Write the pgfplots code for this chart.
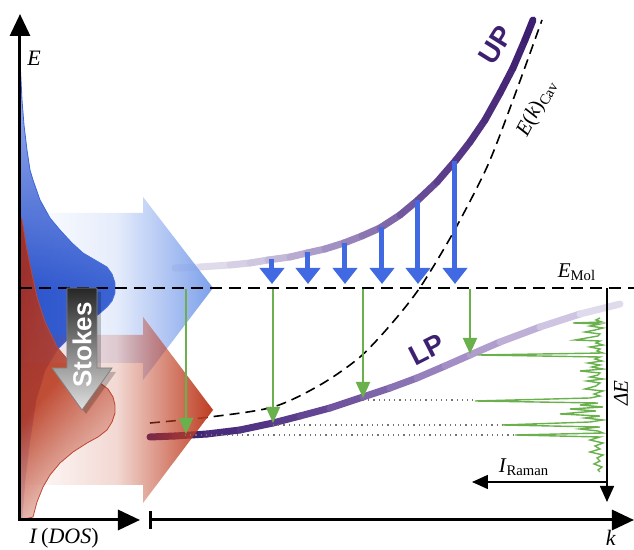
\documentclass[border=0pt]{standalone}
\usepackage{fontspec}
\setmainfont{Liberation Serif}
\setsansfont{Liberation Sans}
\usepackage{pgfplots}
\pgfplotsset{compat=1.18}
\usetikzlibrary{arrows.meta,fadings}
\tikzfading[name=fadeR, left color=transparent!100, right color=transparent!0, middle color=transparent!80]
\definecolor{gr}{RGB}{106,176,76}
\definecolor{bl}{RGB}{65,105,225}
\definecolor{pur}{RGB}{62,32,112}
\definecolor{dosbtop}{RGB}{170,188,240}
\definecolor{dosb}{RGB}{45,85,205}
\definecolor{dosbline}{RGB}{60,100,220}
\definecolor{dosrtop}{RGB}{170,44,26}
\definecolor{dosrmid}{RGB}{186,60,34}
\definecolor{dosrbot}{RGB}{246,228,224}
\definecolor{dosrline}{RGB}{190,70,50}
\definecolor{arrb}{RGB}{125,160,235}
\definecolor{arrr}{RGB}{190,60,32}
\pgfplotsset{
  colormap={upmap}{rgb255=(240,238,246) rgb255=(205,195,222) rgb255=(150,130,186) rgb255=(92,62,140) rgb255=(60,30,110)},
  colormap={lpmap}{rgb255=(55,25,105) rgb255=(95,65,145) rgb255=(165,145,200) rgb255=(232,228,242)}
}
\begin{document}
\begin{tikzpicture}
\begin{axis}[width=317pt,height=275pt,scale only axis,
  xmin=0,xmax=634,ymin=0,ymax=550,y dir=reverse,
  axis lines=none,clip=false]

% --- DOS (blue)
\addplot[draw=dosbline,line width=0.4pt,top color=dosbtop,bottom color=dosb,middle color=dosb]
 coordinates {(20,60)(21,80)(22,100)(24,125)(27,150)(30,170)(33,180)(40,200)(50,218)(60,230)(72,243)(83,253)(95,260)(107,267)(112,274)(115,283)(115,293)(112,301)(107,307)(99,314)(90,320)(80,328)(70,337)(57,350)(45,370)(36,400)(30,440)(25,480)(22,518)(20,520)} --cycle;
% --- DOS (red)
\addplot[draw=dosrline,line width=0.4pt,top color=dosrtop,bottom color=dosrbot,middle color=dosrmid,shading angle=50,fill opacity=0.9]
 coordinates {(20,215)(22,220)(26,245)(30,265)(37,297)(45,322)(57,347)(68,360)(80,370)(90,377)(100,383)(108,389)(113,397)(115,405)(115,413)(112,422)(107,430)(98,437)(87,443)(73,452)(60,463)(50,475)(43,487)(37,502)(33,517)(20,520)} --cycle;

% --- cavity dispersion
\addplot[black,line width=0.8pt,dash pattern=on 5pt off 3pt,smooth]
 coordinates {(150,423)(210,417)(273,407)(320,385)(360,357)(393,322)(421,286)(453,233)(487,167)(513,100)(542,20)};

% --- UP and LP
\addplot[mesh,point meta=x,point meta rel=per plot,colormap name=upmap,line width=3.5pt,line cap=round]
 coordinates {(175,268)(200,267)(230,265)(250,263)(268,260)(290,257)(307,253)(325,249)(344,243)(362,236)(380,228)(400,215)(418,200)(437,182)(456,160)(470,142)(485,120)(500,93)(513,68)(525,40)(533,20)};
\addplot[mesh,point meta=x,point meta rel=per plot,colormap name=lpmap,line width=3.5pt,line cap=round]
 coordinates {(150,437)(175,436)(207,434)(240,430)(273,423)(300,416)(330,408)(363,397)(390,388)(417,378)(445,366)(470,355)(500,342)(540,327)(580,314)(620,304)};

% --- big translucent arrows
\addplot[draw=none,fill=arrb,path fading=fadeR]
 coordinates {(20,213)(143,213)(143,197)(213,288)(143,380)(143,363)(20,363)} --cycle;
\addplot[draw=none,fill=arrr,path fading=fadeR]
 coordinates {(20,335)(143,335)(143,317)(213,410)(143,503)(143,485)(20,485)} --cycle;

% --- E_Mol
\addplot[black,line width=0.8pt,dash pattern=on 6pt off 3.5pt] coordinates {(20,288)(634,288)};

% --- dotted guides
\addplot[black!55,dotted,line width=0.6pt] coordinates {(363,400)(475,400)};
\addplot[black!55,dotted,line width=0.6pt] coordinates {(273,425)(502,425)};
\addplot[black!55,dotted,line width=0.6pt] coordinates {(185,435)(515,435)};

% --- green arrows
\addplot[gr,line width=1pt,-{Triangle[width=7pt,length=8pt]}] coordinates {(186,289)(186,434)};
\addplot[gr,line width=1pt,-{Triangle[width=7pt,length=8pt]}] coordinates {(273,289)(273,423)};
\addplot[gr,line width=1pt,-{Triangle[width=7pt,length=8pt]}] coordinates {(363,289)(363,398)};
\addplot[gr,line width=1pt,-{Triangle[width=7pt,length=8pt]}] coordinates {(470,289)(470,354)};

% --- blue arrows
\addplot[bl,line width=2.5pt,-{Triangle[width=12pt,length=8pt]}] coordinates {(272,259)(272,284)};
\addplot[bl,line width=2.5pt,-{Triangle[width=12pt,length=8pt]}] coordinates {(308,252)(308,284)};
\addplot[bl,line width=2.5pt,-{Triangle[width=12pt,length=8pt]}] coordinates {(345,243)(345,284)};
\addplot[bl,line width=2.5pt,-{Triangle[width=12pt,length=8pt]}] coordinates {(382,227)(382,284)};
\addplot[bl,line width=2.5pt,-{Triangle[width=12pt,length=8pt]}] coordinates {(418,200)(418,284)};
\addplot[bl,line width=2.5pt,-{Triangle[width=12pt,length=8pt]}] coordinates {(455,161)(455,284)};

% --- Stokes arrow
\addplot[draw=none,fill=black,fill opacity=0.22]
 coordinates {(70,292)(101,292)(101,372)(116,372)(86,414)(56,372)(70,372)} --cycle;
\addplot[draw=black!50,line width=0.4pt,top color=black!85,bottom color=black!12]
 coordinates {(67,288)(97,288)(97,368)(112,368)(82,410)(52,368)(67,368)} --cycle;
\node[rotate=90,text=white,font=\sffamily\bfseries\fontsize{13}{15}\selectfont] at (axis cs:82,345) {Stokes};

% --- Raman spectrum
\addplot[gr,line width=0.7pt] coordinates {
(600,318)(596,320)(602,322)(573,323)(600,324)(590,326)(603,328)(595,330)(585,332)(600,334)(598,336)(575,340)(600,341)(596,343)(603,345)(590,347)(600,349)(597,351)(603,353)(478,355)(600,357)(595,359)(602,361)(588,363)(600,365)(592,367)(603,369)(580,371)(600,373)(598,375)(590,377)(603,379)(587,381)(600,383)(596,386)(585,389)(603,391)(594,394)(600,396)(590,398)(475,401)(598,403)(580,405)(603,407)(570,409)(596,411)(560,414)(600,416)(585,418)(603,420)(590,422)(502,425)(600,427)(580,429)(598,431)(603,433)(515,435)(600,437)(590,440)(603,443)(595,446)(600,449)(590,452)(603,455)(597,458)(600,461)(594,464)(602,467)(598,470)(600,472)};

% --- Raman axes
\addplot[black,line width=0.8pt,-{Triangle[width=7pt,length=8pt]}] coordinates {(607,288)(607,502)};
\addplot[black,line width=0.8pt,-{Triangle[width=7pt,length=8pt]}] coordinates {(607,482)(472,482)};

% --- main axes
\addplot[black,line width=1.5pt,{Triangle[width=10pt,length=11pt]}-{Triangle[width=10pt,length=11pt]}] coordinates {(20,14)(20,520)(140,520)};
\addplot[black,line width=1.5pt,{Bar[width=9pt]}-{Triangle[width=10pt,length=11pt]}] coordinates {(149,520)(634,520)};

% --- labels
\node[font=\fontsize{11}{13}\selectfont] at (axis cs:34,58) {\textit{E}};
\node[font=\fontsize{11}{13}\selectfont] at (axis cs:64,538) {\textit{I}\,(\textit{DOS})};
\node[font=\fontsize{11}{13}\selectfont] at (axis cs:611,538) {\textit{k}};
\node[font=\fontsize{10.5}{12}\selectfont] at (axis cs:577,272) {\textit{E}\textsubscript{Mol}};
\node[font=\fontsize{10.5}{12}\selectfont] at (axis cs:524,467) {\textit{I}\textsubscript{Raman}};
\node[rotate=90,font=\fontsize{10.5}{12}\selectfont] at (axis cs:621,393) {\textit{ΔE}};
\node[rotate=62,font=\fontsize{10.5}{12}\selectfont] at (axis cs:537,108) {\textit{E}(\textit{k})\textsubscript{Cav}};
\node[rotate=58,text=pur,font=\sffamily\bfseries\fontsize{14}{16}\selectfont] at (axis cs:496,45) {UP};
\node[rotate=27,text=pur,font=\sffamily\bfseries\fontsize{14}{16}\selectfont] at (axis cs:427,350) {LP};
\end{axis}
\pgfresetboundingbox
\path (current axis.south west) rectangle (current axis.north east);
\end{tikzpicture}
\end{document}
